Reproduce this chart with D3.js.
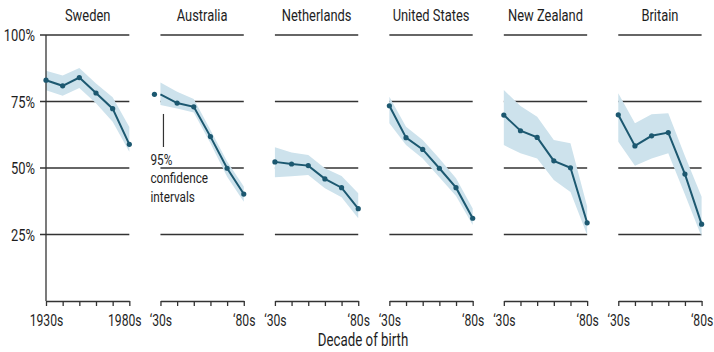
<!DOCTYPE html>
<html>
<head>
<meta charset="utf-8">
<script src="https://cdn.jsdelivr.net/npm/d3@7/dist/d3.min.js"></script>
<style>
  html, body { margin: 0; padding: 0; background: #fff; }
  svg { display: block; }
  text { font-family: Roboto, "Liberation Sans", sans-serif; fill: #1e1e1e; }
</style>
</head>
<body>
<svg id="chart" width="714" height="352"></svg>
<script>
// Share of people (%) by decade of birth, with 95% confidence intervals
const countries = ["Sweden", "Australia", "Netherlands", "United States", "New Zealand", "Britain"];
const decades = [1930, 1940, 1950, 1960, 1970, 1980];
const yTicks = [25, 50, 75, 100];
const yTickLabels = ["25%", "50%", "75%", "100%"];
const noteLines = ["95%", "confidence", "intervals"];

const swedenValue   = [83.0, 80.9, 84.0, 78.2, 72.3, 58.9];
const swedenLow     = [79.2, 77.2, 80.1, 74.3, 67.4, 56.1];
const swedenHigh    = [86.6, 84.8, 87.6, 81.8, 76.6, 65.4];

const australiaValue = [77.7, 74.4, 73.0, 61.8, 49.9, 40.2];
const australiaLow   = [73.7, 72.4, 70.9, 59.3, 46.7, 37.3];
const australiaHigh  = [82.1, 78.7, 75.9, 64.3, 52.4, 43.0];

const netherlandsValue = [52.3, 51.5, 50.9, 45.9, 42.6, 34.7];
const netherlandsLow   = [46.5, 46.9, 47.4, 42.4, 39.0, 31.1];
const netherlandsHigh  = [57.8, 55.8, 54.9, 49.9, 47.0, 40.5];

const usValue = [73.4, 61.4, 57.0, 49.9, 42.6, 31.1];
const usLow   = [66.8, 58.6, 53.6, 46.5, 39.5, 28.6];
const usHigh  = [76.8, 65.5, 60.5, 53.6, 46.1, 34.8];

const nzValue = [69.9, 64.0, 61.5, 52.7, 50.1, 29.4];
const nzLow   = [58.6, 55.5, 53.6, 45.5, 41.0, 24.8];
const nzHigh  = [79.3, 73.3, 69.3, 60.5, 59.3, 35.5];

const britainValue = [70.0, 58.3, 62.1, 63.3, 47.7, 28.9];
const britainLow   = [59.9, 50.8, 53.6, 55.5, 40.0, 24.2];
const britainHigh  = [78.1, 66.8, 70.2, 70.6, 54.5, 39.2];

const seriesValue = [swedenValue, australiaValue, netherlandsValue, usValue, nzValue, britainValue];
const seriesLow   = [swedenLow, australiaLow, netherlandsLow, usLow, nzLow, britainLow];
const seriesHigh  = [swedenHigh, australiaHigh, netherlandsHigh, usHigh, nzHigh, britainHigh];

const lineColor = "#1c5870";
const bandColor = "#cde2ec";
const gridColor = "#333";
const narrow = 0.76;   // horizontal squeeze that gives the condensed lettering

const svg = d3.select("#chart");

// Places a text at (x, y) and squeezes it horizontally around that anchor.
function squeeze(sel, x, y) {
  sel.attr("x", 0).attr("y", 0)
    .attr("transform", `translate(${x},${y}) scale(${narrow},1)`);
  return sel;
}

const panel = d3.scaleBand()
  .domain(countries)
  .range([46, 701.6])
  .paddingInner(0.272)
  .paddingOuter(0);

const y = d3.scaleLinear().domain([0, 100]).range([301, 35]);

countries.forEach((name, i) => {
  const x0 = panel(name);
  const w = panel.bandwidth();
  const x = d3.scaleLinear().domain([1930, 1980]).range([0, w]);
  const g = svg.append("g").attr("transform", `translate(${x0},0)`);
  const rows = decades.map((d, k) => ({
    decade: d, value: seriesValue[i][k], low: seriesLow[i][k], high: seriesHigh[i][k]
  }));

  // title
  squeeze(g.append("text"), w / 2, 21)
    .attr("text-anchor", "middle")
    .style("font-size", "17px")
    .text(name);

  // horizontal gridlines
  g.selectAll("line.grid")
    .data(yTicks)
    .join("line")
    .attr("class", "grid")
    .attr("x1", i === 0 ? -6 : 0)
    .attr("x2", w)
    .attr("y1", d => y(d))
    .attr("y2", d => y(d))
    .attr("stroke", gridColor)
    .attr("stroke-width", 1.3);

  // confidence band
  const area = d3.area()
    .x(d => x(d.decade))
    .y0(d => y(d.low))
    .y1(d => y(d.high));
  g.append("path")
    .datum(rows)
    .attr("d", area)
    .attr("fill", bandColor);

  // x axis
  const axis = d3.axisBottom(x)
    .tickValues(decades)
    .tickSize(5)
    .tickSizeOuter(0)
    .tickPadding(9)
    .tickFormat((d, k) => {
      if (k !== 0 && k !== decades.length - 1) return "";
      return i === 0 ? `${d}s` : `\u2018${String(d).slice(2)}s`;
    });
  const ax = g.append("g")
    .attr("transform", `translate(0,${y(0)})`)
    .call(axis)
    .attr("font-family", null)
    .attr("font-size", null);
  ax.select(".domain").attr("stroke", gridColor).attr("stroke-width", 1.3);
  ax.selectAll(".tick line").attr("stroke", gridColor).attr("stroke-width", 1.3);
  ax.selectAll(".tick text")
    .style("font-size", "16px")
    .attr("fill", "#1e1e1e")
    .attr("transform", (d, k) =>
      `translate(${i === 0 && k === decades.length - 1 ? -5 : 0},0) scale(${narrow},1)`);

  // y axis on the first panel only
  if (i === 0) {
    g.append("line")
      .attr("x1", 0).attr("x2", 0)
      .attr("y1", y(100)).attr("y2", y(0))
      .attr("stroke", gridColor)
      .attr("stroke-width", 1.3);
    g.selectAll("text.ylab")
      .data(yTicks)
      .join("text")
      .attr("class", "ylab")
      .each(function (d) { squeeze(d3.select(this), -11, y(d)); })
      .attr("dy", "0.36em")
      .attr("text-anchor", "end")
      .style("font-size", "17px")
      .text((d, k) => yTickLabels[k]);
  }

  // series line
  const line = d3.line()
    .x(d => x(d.decade))
    .y(d => y(d.value));
  g.append("path")
    .datum(rows)
    .attr("d", line)
    .attr("fill", "none")
    .attr("stroke", lineColor)
    .attr("stroke-width", 2);

  // points
  g.selectAll("circle.pt")
    .data(rows)
    .join("circle")
    .attr("class", "pt")
    .attr("cx", (d, k) => x(d.decade) + (name === "Australia" && k === 0 ? -6 : 0))
    .attr("cy", d => y(d.value))
    .attr("r", 2.6)
    .attr("fill", lineColor);

  // annotation for the confidence band
  if (name === "Australia") {
    g.append("line")
      .attr("x1", 3).attr("x2", 3)
      .attr("y1", y(australiaLow[0]) + 9)
      .attr("y2", 147)
      .attr("stroke", gridColor)
      .attr("stroke-width", 1.2);
    const note = squeeze(g.append("text"), -10, 165)
      .style("font-size", "15.5px");
    noteLines.forEach((t, k) => {
      note.append("tspan").attr("x", 0).attr("dy", k === 0 ? 0 : 18.5).text(t);
    });
  }
});

// shared x-axis title
squeeze(svg.append("text"), 363, 346)
  .attr("text-anchor", "middle")
  .style("font-size", "17.5px")
  .text("Decade of birth");
</script>
</body>
</html>
